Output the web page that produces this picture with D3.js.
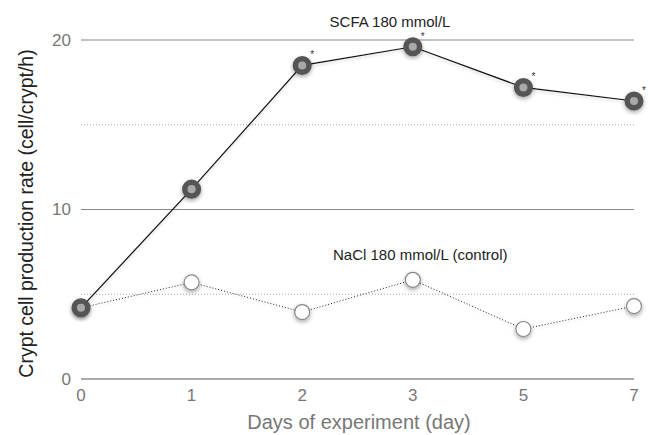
<!DOCTYPE html>
<html>
<head>
<meta charset="utf-8">
<script src="https://cdn.jsdelivr.net/npm/d3@7"></script>
<style>
  body { margin: 0; background: #fff; }
  text { font-family: "Liberation Sans", Arial, sans-serif; }
</style>
</head>
<body>
<svg id="chart" width="648" height="435"></svg>
<script>
// chart data
const days = ['0', '1', '2', '3', '5', '7'];
const scfa = [4.2, 11.2, 18.5, 19.6, 17.2, 16.4];
const nacl = [4.2, 5.7, 3.95, 5.85, 2.95, 4.3];
const starDays = ['2', '3', '5', '7'];
const solidTicks = [10, 20];
const dottedTicks = [5, 15];
const yLabels = [0, 10, 20];

const svg = d3.select('#chart');
const margin = { left: 81, right: 14, top: 40, bottom: 56 };
const W = 648, H = 435;

const x = d3.scalePoint().domain(days).range([margin.left, W - margin.right]).padding(0);
const y = d3.scaleLinear().domain([0, 20]).range([H - margin.bottom, margin.top]);

const defs = svg.append('defs');
const shadow = defs.append('filter').attr('id', 'shadow')
  .attr('x', '-50%').attr('y', '-50%').attr('width', '200%').attr('height', '200%');
shadow.append('feDropShadow').attr('dx', 0).attr('dy', 2).attr('stdDeviation', 2)
  .attr('flood-color', '#000').attr('flood-opacity', 0.35);
const lineShadow = defs.append('filter').attr('id', 'lshadow')
  .attr('x', '-10%').attr('y', '-50%').attr('width', '120%').attr('height', '200%');
lineShadow.append('feDropShadow').attr('dx', 0).attr('dy', 2).attr('stdDeviation', 1.5)
  .attr('flood-color', '#000').attr('flood-opacity', 0.18);

// grid lines
svg.append('g').selectAll('line.dot').data(dottedTicks).join('line')
  .attr('x1', margin.left).attr('x2', W - margin.right)
  .attr('y1', d => y(d)).attr('y2', d => y(d))
  .attr('stroke', '#aaa').attr('stroke-width', 1).attr('stroke-dasharray', '1,2');
svg.append('g').selectAll('line.solid').data(solidTicks).join('line')
  .attr('x1', margin.left).attr('x2', W - margin.right)
  .attr('y1', d => y(d)).attr('y2', d => y(d))
  .attr('stroke', '#888').attr('stroke-width', 1.2);
svg.append('line')
  .attr('x1', margin.left).attr('x2', W - margin.right)
  .attr('y1', y(0)).attr('y2', y(0))
  .attr('stroke', '#aaa').attr('stroke-width', 2);

// tick labels
svg.append('g').selectAll('text').data(yLabels).join('text')
  .attr('x', 71).attr('y', d => y(d)).attr('dy', '0.35em')
  .attr('text-anchor', 'end').attr('font-size', 17).attr('fill', '#777')
  .text(d => d);
svg.append('g').selectAll('text').data(days).join('text')
  .attr('x', d => x(d)).attr('y', 401)
  .attr('text-anchor', 'middle').attr('font-size', 17).attr('fill', '#777')
  .text(d => d);

// axis titles
svg.append('text').attr('x', 359).attr('y', 429)
  .attr('text-anchor', 'middle').attr('font-size', 20).attr('fill', '#777')
  .text('Days of experiment (day)');
svg.append('text')
  .attr('transform', `translate(33, ${(y(0) + y(20)) / 2 + 4}) rotate(-90)`)
  .attr('text-anchor', 'middle').attr('font-size', 19.5).attr('fill', '#222')
  .text('Crypt cell production rate (cell/crypt/h)');

const line = d3.line().x((d, i) => x(days[i])).y(d => y(d));

// NaCl control series
svg.append('path').datum(nacl).attr('d', line)
  .attr('fill', 'none').attr('stroke', '#222').attr('stroke-width', 1)
  .attr('stroke-dasharray', '1,2').attr('filter', 'url(#lshadow)');
svg.append('g').selectAll('circle').data(nacl).join('circle')
  .attr('cx', (d, i) => x(days[i])).attr('cy', d => y(d)).attr('r', 7.5)
  .attr('fill', '#fff').attr('stroke', '#888').attr('stroke-width', 1.2)
  .attr('filter', 'url(#shadow)');

// SCFA series
svg.append('path').datum(scfa).attr('d', line)
  .attr('fill', 'none').attr('stroke', '#111').attr('stroke-width', 1.2)
  .attr('filter', 'url(#lshadow)');
svg.append('g').selectAll('circle').data(scfa).join('circle')
  .attr('cx', (d, i) => x(days[i])).attr('cy', d => y(d)).attr('r', 6.8)
  .attr('fill', '#a8a8a8').attr('stroke', '#555').attr('stroke-width', 5.5)
  .attr('filter', 'url(#shadow)');

// significance markers
svg.append('g').selectAll('text').data(starDays).join('text')
  .attr('x', d => x(d) + 10).attr('y', d => y(scfa[days.indexOf(d)]) - 7)
  .attr('text-anchor', 'middle').attr('font-size', 10).attr('fill', '#333')
  .text('*');

// series labels
svg.append('text').attr('x', 390).attr('y', 27)
  .attr('text-anchor', 'middle').attr('font-size', 15).attr('fill', '#222')
  .text('SCFA 180 mmol/L');
svg.append('text').attr('x', 333).attr('y', 260)
  .attr('text-anchor', 'start').attr('font-size', 15).attr('fill', '#222')
  .text('NaCl 180 mmol/L (control)');
</script>
</body>
</html>
